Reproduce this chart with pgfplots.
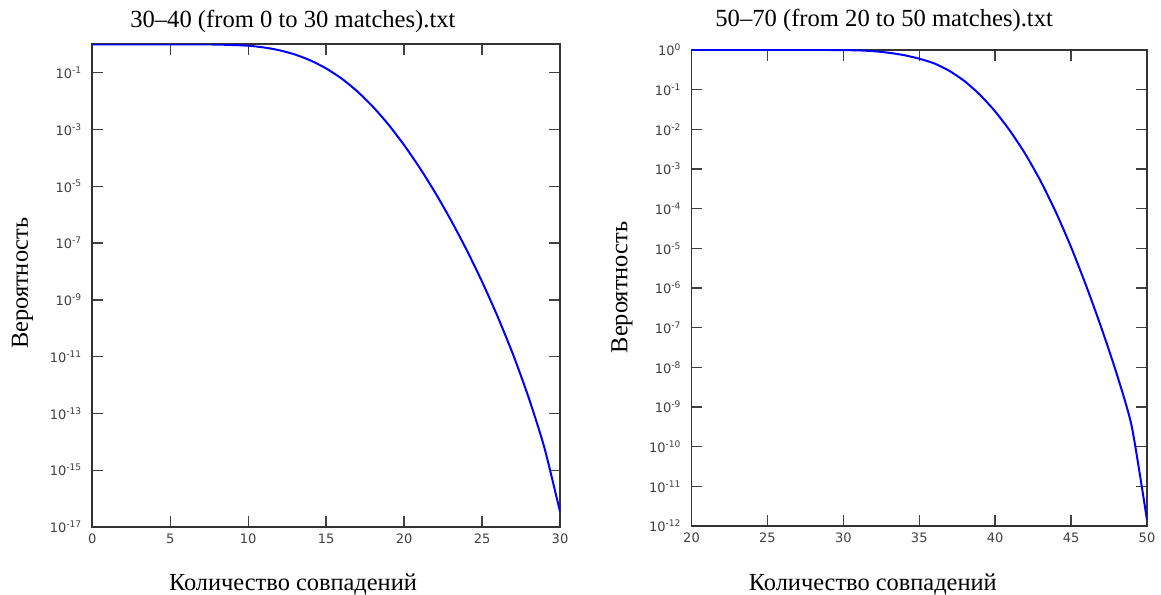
\documentclass[border=0pt]{standalone}
\usepackage{fontspec}
\setmainfont{Liberation Serif}
\setsansfont{DejaVu Sans}
\usepackage{pgfplots}
\pgfplotsset{compat=1.18}
\definecolor{tickgray}{HTML}{404040}
\definecolor{framegray}{HTML}{333333}
\newcommand{\pw}[1]{10\textsuperscript{#1}}

\pgfplotsset{every axis/.append style={
  scale only axis,
  axis line style={framegray, line width=0.9pt},
  tick style={tickgray, line width=0.7pt},
  major tick length=5.3pt, tick align=inside,
  yminorticks=false, xminorticks=false,
  ticklabel style={font=\sffamily\fontsize{6.5}{7}\selectfont, text=tickgray},
  yticklabel style={xshift=-1.5pt},
  title style={font=\fontsize{12.3}{14}\selectfont, anchor=base},
  label style={font=\fontsize{12.2}{14}\selectfont},
  xlabel style={anchor=base},
  ylabel style={anchor=center},
}}

\begin{document}
\begin{tikzpicture}
\path[use as bounding box] (0,0) rectangle (580.5pt,297pt);

% left panel
\begin{axis}[ymode=log, at={(46.15pt,33.5pt)}, anchor=south west,
  width=233.85pt, height=241.35pt,
  xmin=0, xmax=30, ymin=1e-17, ymax=1,
  xtick={0,5,...,30}, xticklabels={0,5,10,15,20,25,30},
  ytick={1e-1,1e-3,1e-5,1e-7,1e-9,1e-11,1e-13,1e-15,1e-17},
  yticklabels={\pw{-1},\pw{-3},\pw{-5},\pw{-7},\pw{-9},\pw{-11},\pw{-13},\pw{-15},\pw{-17}},
  title={30–40 (from 0 to 30 matches).txt},
  title style={at={(0.429,1)}, yshift=2.5pt},
  xlabel={Количество совпадений},
  xlabel style={at={(0.429,0)}, yshift=-31.5pt},
  ylabel={Вероятность},
  ylabel style={at={(-0.1492,0.505)}},
]
\addplot[blue, line width=1pt, smooth, tension=0.4] coordinates {
(0,1) (2,1) (4,1) (6,1) (7,0.995) (8,0.977) (9,0.944) (10,0.891) (11,0.776)
(12,0.617) (13,0.437) (14,0.269) (15,0.141) (16,0.0617) (17,0.0219)
(18,6.31e-3) (19,1.48e-3) (20,2.82e-4) (21,4.47e-5) (22,5.89e-6)
(23,6.46e-7) (24,5.89e-8) (25,4.37e-9) (26,2.57e-10) (27,1.15e-11)
(28,3.47e-13) (29,6.17e-15) (30,3.47e-17)
};
\end{axis}

% right panel
\begin{axis}[ymode=log, at={(345.75pt,34pt)}, anchor=south west,
  width=227.75pt, height=238pt,
  xmin=20, xmax=50, ymin=1e-12, ymax=1,
  xtick={20,25,...,50}, xticklabels={20,25,30,35,40,45,50},
  ytick={1,1e-1,1e-2,1e-3,1e-4,1e-5,1e-6,1e-7,1e-8,1e-9,1e-10,1e-11,1e-12},
  yticklabels={\pw{0},\pw{-1},\pw{-2},\pw{-3},\pw{-4},\pw{-5},\pw{-6},\pw{-7},\pw{-8},\pw{-9},\pw{-10},\pw{-11},\pw{-12}},
  title={50–70 (from 20 to 50 matches).txt},
  title style={at={(0.423,1)}, yshift=5.5pt},
  xlabel={Количество совпадений},
  xlabel style={at={(0.398,0)}, yshift=-32pt},
  ylabel={Вероятность},
  ylabel style={at={(-0.1526,0.501)}},
]
\addplot[blue, line width=1pt, smooth, tension=0.4] coordinates {
(20,1) (25,1) (29,1) (30,0.993) (31,0.977) (32,0.933) (33,0.851) (34,0.741)
(35,0.603) (36,0.457) (37,0.295) (38,0.162) (39,0.0741) (40,0.0282)
(41,8.91e-3) (42,2.34e-3) (43,4.9e-4) (44,8.13e-5) (45,1.07e-5)
(46,1.12e-6) (47,9.77e-8) (48,6.92e-9) (49,3.16e-10) (50,1.41e-12)
};
\end{axis}
\end{tikzpicture}
\end{document}
